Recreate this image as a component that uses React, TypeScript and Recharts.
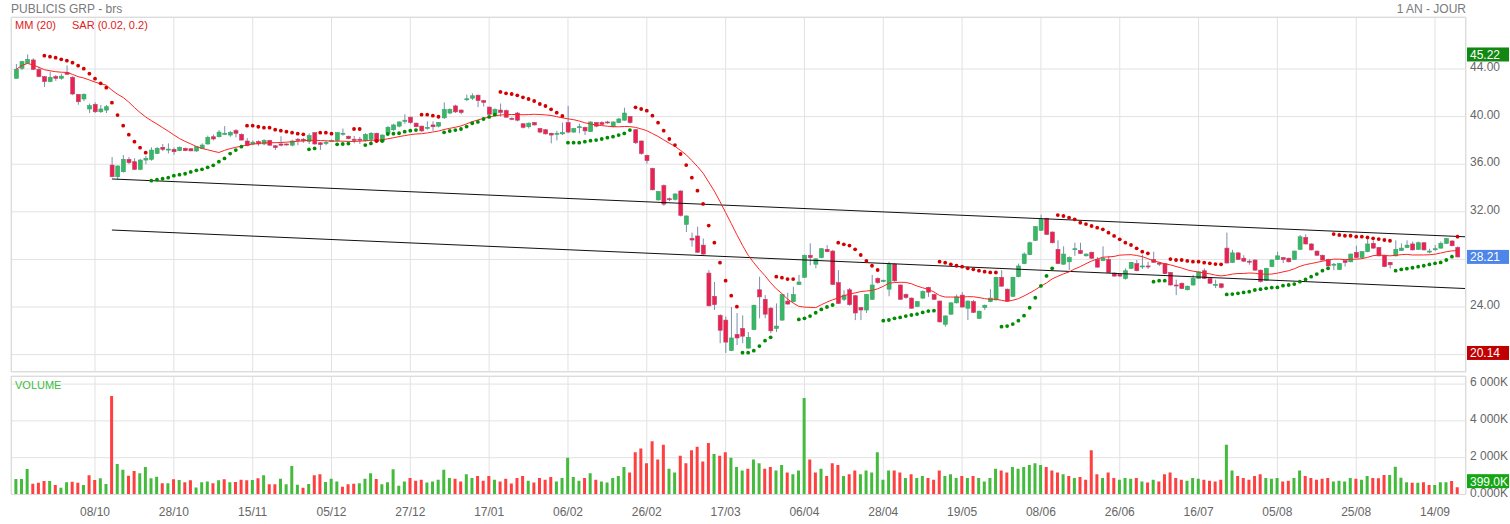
import React from "react";
import {
  ComposedChart,
  Bar,
  Line,
  Cell,
  XAxis,
  YAxis,
  CartesianGrid,
  ReferenceLine,
} from "recharts";

// PUBLICIS GRP daily, ~18/09/2019 -> 18/09/2020 (one row = 10 sessions)
const opens = [
  43.22, 44.06, 44.48, 44.76, 43.97, 43.36, 42.94, 43.36, 43.22, 43.72,
  43.3, 41.87, 41.48, 40.64, 41.03, 40.41, 40.55, 35.93, 34.95, 35.37,
  36.41, 36.21, 35.57, 36.35, 36.41, 36.91, 37.42, 37.19, 37.25, 37.14,
  37.33, 37.3, 37.11, 37.33, 37.7, 38.31, 38.31, 38.5, 38.45, 38.82,
  38.51, 37.95, 37.7, 37.9, 37.7, 38.0, 37.55, 37.7, 37.7, 37.6,
  38.1, 38.1, 37.9, 38.65, 37.8, 37.75, 37.95, 37.98, 38.55, 38.35,
  38.1, 38.1, 37.97, 38.1, 38.6, 37.9, 38.6, 38.9, 39.2, 39.6,
  39.95, 39.45, 39.2, 39.05, 39.3, 39.2, 39.9, 40.3, 40.9, 40.55,
  41.45, 41.55, 41.8, 41.35, 40.8, 40.2, 40.55, 40.5, 39.85, 40.3,
  39.4, 39.15, 39.5, 39.0, 38.9, 38.6, 38.55, 38.55, 39.5, 38.7,
  39.1, 39.1, 38.75, 39.5, 39.5, 39.55, 39.15, 39.5, 39.7, 40.0,
  38.9, 37.95, 36.75, 35.65, 33.0, 34.2, 33.1, 33.05, 33.75, 30.95,
  29.77, 29.97, 29.2, 26.85, 24.9, 23.3, 22.9, 20.35, 21.7, 22.2,
  20.55, 22.1, 25.45, 24.65, 23.9, 22.2, 22.9, 24.5, 24.45, 25.9,
  26.5, 28.35, 27.6, 28.15, 28.85, 28.7, 26.05, 24.65, 25.45, 24.95,
  23.95, 23.75, 24.65, 26.4, 26.15, 25.5, 27.6, 25.85, 25.05, 24.75,
  24.05, 24.75, 25.65, 25.05, 24.5, 22.55, 23.4, 24.35, 25.0, 23.9,
  24.45, 23.05, 23.95, 24.45, 24.6, 26.5, 25.5, 24.9, 26.55, 27.65,
  28.4, 29.6, 30.45, 31.45, 30.3, 28.85, 27.6, 27.8, 28.85, 28.75,
  28.3, 28.6, 28.0, 27.9, 28.0, 26.85, 26.75, 26.4, 27.25, 27.65,
  27.4, 27.45, 28.0, 27.7, 27.65, 26.9, 25.85, 26.0, 25.45, 25.85,
  26.4, 27.05, 26.4, 25.85, 25.95, 28.95, 27.75, 28.55, 28.1, 27.85,
  27.95, 27.1, 26.25, 27.4, 28.0, 28.15, 28.1, 28.0, 28.85, 29.85,
  29.3, 28.7, 28.35, 28.0, 27.55, 27.15, 27.9, 27.8, 28.6, 28.15,
  28.65, 29.35, 29.0, 28.35, 27.75, 28.3, 28.75, 29.0, 29.3, 28.85,
  29.4, 28.65, 28.85, 28.95, 29.35, 29.55, 29.0,
];

const highs = [
  44.42, 44.7, 45.22, 44.9, 44.2, 43.4, 43.78, 43.5, 43.6, 44.3,
  43.4, 41.9, 41.95, 41.1, 41.2, 40.98, 40.98, 36.6, 35.9, 36.77,
  36.6, 36.5, 36.45, 36.7, 37.42, 37.45, 37.7, 37.75, 37.4, 37.5,
  37.4, 37.35, 37.5, 37.75, 38.4, 38.5, 38.87, 39.2, 38.8, 38.95,
  38.6, 38.2, 38.0, 38.0, 38.1, 38.05, 37.6, 38.35, 37.75, 38.05,
  38.2, 38.2, 38.6, 38.7, 37.85, 37.95, 38.1, 38.7, 39.0, 38.4,
  38.38, 38.3, 38.6, 38.7, 38.65, 38.5, 39.2, 39.4, 39.6, 40.2,
  40.0, 39.5, 39.25, 39.6, 39.6, 39.55, 41.2, 40.7, 41.0, 40.6,
  41.85, 41.95, 41.85, 41.4, 40.85, 40.7, 41.1, 40.6, 39.95, 40.4,
  39.45, 39.5, 39.55, 39.05, 38.95, 38.65, 38.8, 39.5, 40.9, 39.05,
  39.4, 39.15, 39.6, 39.55, 39.6, 39.65, 39.6, 39.9, 40.75, 40.05,
  38.95, 38.0, 36.8, 35.7, 33.75, 34.3, 33.2, 33.55, 33.8, 31.7,
  30.25, 30.75, 29.75, 27.1, 26.1, 23.4, 23.2, 24.0, 23.5, 23.3,
  21.9, 24.2, 26.55, 25.0, 24.0, 24.3, 25.1, 25.2, 25.7, 26.7,
  28.4, 29.35, 28.1, 28.95, 29.2, 28.8, 27.1, 25.4, 25.6, 25.0,
  24.0, 25.1, 26.7, 26.5, 26.3, 27.8, 27.7, 25.9, 25.15, 24.8,
  24.5, 25.4, 25.7, 25.1, 24.55, 23.3, 24.4, 25.05, 25.25, 24.55,
  24.6, 23.7, 24.2, 25.5, 26.55, 27.1, 25.55, 26.55, 27.65, 28.6,
  29.5, 30.8, 31.75, 31.5, 30.35, 29.6, 29.1, 28.25, 29.4, 29.4,
  28.5, 28.65, 28.2, 29.1, 28.3, 26.9, 26.8, 27.25, 27.8, 27.95,
  28.4, 27.8, 28.65, 27.8, 27.7, 26.95, 26.3, 26.05, 25.8, 26.7,
  27.0, 27.25, 26.45, 26.3, 26.0, 30.25, 28.8, 28.6, 28.35, 28.0,
  28.0, 27.15, 27.3, 28.0, 28.65, 28.2, 28.15, 28.75, 30.05, 30.1,
  29.35, 28.75, 28.4, 28.05, 27.7, 27.7, 27.95, 28.5, 29.15, 28.7,
  29.75, 29.6, 29.05, 28.4, 27.8, 29.6, 29.35, 29.6, 29.5, 29.5,
  29.45, 28.9, 29.2, 29.5, 29.8, 29.6, 29.1,
];

const lows = [
  43.2, 43.9, 44.45, 43.9, 43.3, 42.5, 42.9, 43.0, 43.1, 43.5,
  41.8, 41.0, 41.3, 40.3, 40.3, 40.3, 40.3, 34.9, 34.7, 35.3,
  36.0, 35.5, 35.5, 36.0, 36.3, 36.85, 37.1, 36.9, 36.8, 37.1,
  37.1, 37.1, 37.05, 37.3, 37.65, 38.0, 38.25, 38.45, 38.3, 38.25,
  38.0, 37.5, 37.6, 37.55, 37.6, 37.55, 37.2, 37.5, 37.55, 37.5,
  37.6, 37.8, 37.7, 37.65, 37.2, 37.6, 37.9, 37.9, 38.4, 38.1,
  37.75, 37.7, 37.9, 37.6, 37.85, 37.85, 38.5, 38.8, 39.1, 39.4,
  39.4, 39.1, 38.7, 38.9, 38.8, 39.1, 39.8, 40.2, 40.3, 40.2,
  41.3, 41.4, 40.8, 40.85, 40.1, 40.1, 40.0, 39.9, 39.7, 39.6,
  39.0, 39.0, 39.25, 38.6, 38.5, 37.75, 38.0, 38.45, 38.6, 38.65,
  38.6, 38.45, 38.7, 39.1, 39.3, 39.4, 39.1, 39.45, 39.65, 39.4,
  37.7, 36.8, 36.05, 33.8, 32.95, 32.5, 32.9, 32.95, 31.6, 30.3,
  29.07, 28.55, 28.4, 24.05, 23.75, 20.95, 20.14, 20.3, 20.8, 20.95,
  20.5, 22.05, 23.05, 23.05, 21.8, 21.9, 22.85, 24.2, 24.4, 25.85,
  26.45, 27.5, 27.25, 28.1, 28.6, 25.85, 24.25, 24.5, 24.1, 22.9,
  22.9, 23.5, 24.6, 25.95, 26.1, 24.9, 26.1, 24.6, 24.7, 23.85,
  24.0, 24.7, 24.85, 24.6, 22.7, 22.35, 23.35, 24.3, 23.95, 22.9,
  23.5, 23.0, 23.75, 24.4, 24.55, 25.7, 24.45, 24.85, 26.5, 27.6,
  28.35, 29.55, 30.4, 30.05, 29.35, 27.6, 27.55, 27.1, 28.3, 28.45,
  28.25, 28.05, 27.3, 27.85, 26.85, 26.55, 26.55, 26.3, 27.2, 27.0,
  27.2, 27.2, 27.7, 27.45, 26.75, 25.8, 25.0, 25.5, 25.4, 25.8,
  26.35, 26.35, 25.95, 25.6, 25.55, 27.65, 27.7, 27.95, 27.8, 27.55,
  27.05, 26.05, 26.2, 27.35, 27.95, 27.7, 27.75, 27.95, 28.8, 29.25,
  28.75, 28.3, 27.9, 27.4, 27.1, 27.1, 27.4, 27.75, 28.1, 28.1,
  28.6, 28.9, 28.25, 27.35, 27.25, 28.25, 28.7, 28.95, 28.75, 28.8,
  28.75, 28.5, 28.7, 28.9, 29.3, 29.1, 28.15,
];

const closes = [
  43.97, 44.62, 44.81, 43.97, 43.36, 42.94, 43.3, 43.22, 43.4, 43.56,
  41.9, 41.25, 41.87, 40.92, 40.41, 40.64, 40.83, 34.95, 35.85, 36.41,
  36.13, 35.57, 36.35, 36.49, 37.19, 37.33, 37.25, 37.27, 37.05, 37.42,
  37.14, 37.12, 37.47, 37.61, 38.26, 38.12, 38.7, 38.6, 38.68, 38.6,
  38.03, 37.56, 37.85, 37.7, 38.0, 37.6, 37.4, 37.6, 37.62, 37.95,
  38.0, 37.95, 38.4, 37.7, 37.65, 37.85, 38.0, 38.65, 38.6, 38.15,
  38.0, 38.05, 38.5, 38.6, 37.9, 38.45, 39.1, 39.3, 39.55, 39.7,
  39.5, 39.15, 38.8, 39.1, 39.15, 39.5, 40.6, 40.6, 40.4, 40.35,
  41.5, 41.75, 41.35, 41.2, 40.2, 40.6, 40.35, 39.95, 39.78, 39.7,
  39.1, 39.45, 39.3, 38.7, 38.55, 38.45, 38.6, 38.65, 38.7, 39.0,
  39.15, 38.8, 39.55, 39.2, 39.35, 39.5, 39.55, 39.8, 40.3, 39.5,
  37.8, 36.9, 36.3, 33.85, 33.7, 32.65, 33.05, 33.5, 31.7, 31.65,
  29.63, 28.6, 28.45, 24.1, 24.2, 22.05, 21.05, 21.4, 21.4, 21.55,
  21.45, 24.15, 24.85, 23.4, 22.0, 22.4, 25.05, 24.25, 25.05, 26.1,
  28.35, 28.15, 28.05, 28.9, 28.65, 25.9, 24.3, 25.0, 24.2, 23.5,
  23.75, 25.05, 25.85, 26.05, 26.25, 27.6, 26.2, 24.65, 24.8, 23.9,
  24.45, 25.3, 25.25, 24.65, 22.75, 23.25, 24.35, 24.85, 24.0, 24.5,
  23.55, 23.65, 24.15, 24.75, 26.5, 25.75, 24.5, 26.5, 27.45, 28.45,
  29.4, 30.75, 31.35, 30.1, 29.4, 27.65, 28.45, 28.15, 28.9, 28.5,
  28.45, 28.1, 27.35, 28.1, 26.9, 26.6, 26.6, 27.05, 27.75, 27.05,
  27.45, 27.4, 27.75, 27.6, 26.8, 25.85, 25.8, 25.55, 25.75, 26.4,
  26.95, 26.4, 26.0, 25.9, 25.65, 27.7, 28.55, 28.0, 27.85, 27.8,
  27.1, 26.15, 27.25, 27.95, 28.3, 28.0, 27.8, 28.7, 29.9, 29.3,
  28.8, 28.35, 27.95, 27.45, 27.6, 27.65, 27.75, 28.45, 28.15, 28.65,
  29.3, 28.95, 28.3, 27.4, 27.55, 28.85, 28.95, 29.2, 28.8, 29.4,
  28.8, 28.7, 28.9, 29.35, 29.75, 29.15, 28.21,
];

// parabolic SAR (0.02, 0.2) dots as plotted
const sarValues = [
  null, null, null, null, null, 45.12, 45.04, 44.95, 44.81, 44.7,
  44.53, 44.28, 44.03, 43.61, 43.19, 42.8, 42.43, 41.17, 40.13, 39.24,
  38.48, 37.89, 37.39, 36.97, 34.62, 34.7, 34.78, 34.87, 35.04, 35.12,
  35.2, 35.35, 35.49, 35.57, 35.74, 35.91, 36.21, 36.49, 36.89, 37.19,
  37.47, 39.24, 39.24, 39.15, 39.07, 39.07, 38.9, 38.82, 38.73, 38.65,
  38.57, 38.51, 37.25, 37.33, 38.65, 38.65, 38.57, 37.67, 37.7, 37.73,
  38.96, 38.96, 37.61, 37.75, 37.95, 37.95, 38.54, 38.57, 38.6, 38.73,
  38.82, 38.87, 40.16, 40.16, 40.08, 39.99, 38.68, 38.79, 38.87, 38.96,
  39.16, 39.44, 39.55, 39.8, 39.97, 40.16, 42.07, 41.96, 41.9, 41.79,
  41.62, 41.48, 41.31, 41.06, 40.89, 40.61, 40.33, 40.05, 37.81, 37.81,
  37.81, 37.89, 37.98, 38.03, 38.12, 38.23, 38.31, 38.45, 38.59, 38.87,
  40.78, 40.64, 40.5, 40.08, 39.49, 38.82, 38.12, 37.61, 36.86, 35.93,
  34.87, 33.78, 32.66, 30.84, 29.41, 27.73, 26.21, 24.95, 24.03, 20.16,
  20.16, 20.33, 20.72, 21.17, 21.45, 26.55, 26.47, 26.35, 26.35, 22.96,
  23.05, 23.24, 23.52, 23.8, 24.0, 24.17, 29.41, 29.27, 29.16, 28.85,
  28.37, 27.87, 27.47, 27.11, 22.85, 22.91, 23.05, 23.13, 23.24, 23.33,
  23.41, 23.55, 23.66, 23.69, 27.81, 27.73, 27.59, 27.47, 27.39, 27.25,
  27.17, 27.05, 26.97, 26.91, 26.9, 22.35, 22.4, 22.57, 22.85, 23.27,
  23.94, 24.78, 25.77, 26.61, 27.25, 31.73, 31.65, 31.51, 31.37, 31.09,
  30.97, 30.81, 30.67, 30.53, 30.25, 29.97, 29.69, 29.41, 29.21, 28.93,
  28.65, 28.51, 26.13, 26.21, 26.21, 28.03, 27.95, 27.95, 27.87, 27.81,
  27.81, 27.73, 27.67, 27.61, 27.59, 25.06, 25.09, 25.15, 25.23, 25.29,
  25.43, 25.5, 25.57, 25.63, 25.65, 25.79, 25.85, 25.93, 26.13, 26.32,
  26.55, 26.77, 27.05, 27.25, 30.13, 30.05, 29.99, 29.99, 29.91, 29.91,
  29.85, 29.77, 29.71, 29.63, 29.57, 27.05, 27.16, 27.22, 27.3, 27.39,
  27.47, 27.58, 27.67, 27.75, 27.95, 28.23, 29.91,
];

// volume in thousands of shares
const volumes = [
  842, 842, 1385, 587, 640, 730, 730, 515, 370, 660,
  695, 640, 515, 1040, 786, 877, 570, 5353, 1657, 1350,
  1025, 1277, 1150, 1495, 877, 967, 605, 605, 822, 786,
  660, 768, 387, 660, 713, 605, 768, 822, 660, 677,
  804, 768, 786, 877, 1040, 551, 551, 858, 551, 1549,
  533, 370, 570, 1040, 1095, 677, 858, 713, 424, 551,
  587, 605, 858, 1150, 840, 551, 660, 1368, 478, 700,
  900, 750, 800, 650, 700, 800, 1350, 900, 850, 700,
  1100, 900, 1000, 750, 1000, 800, 700, 850, 600, 900,
  1000, 750, 650, 900, 800, 950, 700, 900, 2000, 950,
  750, 900, 1150, 800, 700, 650, 900, 1000, 1500, 1200,
  2300, 2500, 1700, 2900, 1900, 2700, 1400, 1200, 2100, 1700,
  2400, 2600, 1800, 2800, 2200, 2100, 2300, 2000, 1500, 1300,
  1400, 1900, 1700, 1400, 1500, 1300, 1600, 1200, 1100, 1300,
  5250, 1900, 1200, 1400, 1000, 1700, 1600, 1000, 1100, 1300,
  1100, 1300, 1200, 2300, 800, 1300, 1300, 1200, 900, 1100,
  900, 1000, 900, 800, 1300, 1000, 1100, 900, 1000, 900,
  1000, 900, 700, 900, 1400, 1300, 1200, 1500, 1400, 1500,
  1600, 1700, 1600, 1500, 1300, 1200, 1100, 1000, 900, 950,
  800, 2400, 1100, 900, 1200, 900, 800, 900, 850, 900,
  700, 650, 800, 700, 1100, 1200, 900, 800, 750, 900,
  850, 800, 750, 700, 800, 2700, 1300, 1000, 900, 800,
  1000, 1100, 900, 850, 900, 700, 750, 900, 1300, 1000,
  900, 800, 850, 900, 700, 750, 700, 900, 850, 800,
  1000, 900, 880, 1060, 1060, 1511, 915, 663, 645, 645,
  663, 516, 516, 663, 663, 734, 399,
];

const dateTicks = [
  "08/10", "28/10", "15/11", "05/12", "27/12", "17/01", "06/02", "26/02", "17/03",
  "06/04", "28/04", "19/05", "08/06", "26/06", "16/07", "05/08", "25/08", "14/09",
];
const tickIdx = dateTicks.map((_, k) => 14 + k * 14);

const priceTicks = [20, 24, 28, 32, 36, 40, 44];
const volumeTicks = [0, 2000, 4000, 6000];

// trend channel
const upperLine = [{ x: 17, y: 34.76 }, { x: 257.5, y: 29.9 }];
const lowerLine = [{ x: 17, y: 30.47 }, { x: 257.5, y: 25.55 }];

const LAST = 28.21;
const MAX = 45.22;
const MIN = 20.14;
const LAST_VOL = 399;

const X_DOMAIN: [number, number] = [-0.924, 257.5];
const FONT = "'Liberation Sans', Arial, sans-serif";

function movingAverage(n: number) {
  return closes.map((_, i) => {
    const from = Math.max(0, i - n + 1);
    const win = closes.slice(from, i + 1);
    return win.reduce((a, b) => a + b, 0) / win.length;
  });
}

const mm = movingAverage(20);

const data = closes.map((c, i) => {
  const s = sarValues[i];
  return {
    i,
    o: opens[i],
    h: highs[i],
    l: lows[i],
    c,
    range: [lows[i], highs[i]],
    v: volumes[i],
    rise: i === 0 ? true : c >= closes[i - 1],
    mm: mm[i],
    sarDn: s != null && s > c ? s : null,
    sarUp: s != null && s <= c ? s : null,
  };
});

const Candle = (props: any) => {
  const { x, y, width, height, payload } = props;
  if (!payload || height == null) return null;
  const { o, h, l, c } = payload;
  const cx = x + width / 2;
  const k = height / (h - l);
  const yo = y + (h - o) * k;
  const yc = y + (h - c) * k;
  const up = c >= o;
  const top = Math.min(yo, yc);
  const bh = Math.max(Math.abs(yo - yc), 1);
  return (
    <g>
      <line x1={cx} x2={cx} y1={y} y2={y + height} stroke="#7b8fae" strokeWidth={1} />
      <rect
        x={cx - 2}
        y={top}
        width={4}
        height={bh}
        fill={up ? "#38b764" : "#ec2150"}
        stroke={up ? "#3aa36a" : "#b8456a"}
        strokeWidth={0.6}
      />
    </g>
  );
};

const Badge = (props: any) => {
  const { viewBox, text, bg, w = 42, dy = 0 } = props;
  if (!viewBox) return null;
  const x = viewBox.x + viewBox.width + 1;
  const y = viewBox.y + dy;
  return (
    <g>
      <rect x={x} y={y - 7} width={w} height={14} fill={bg} />
      <text x={x + 3} y={y + 4.5} fill="#fff" fontSize={12} fontFamily={FONT}>
        {text}
      </text>
    </g>
  );
};

// right-hand tick text, no wrapping; price ticks hidden under a badge are skipped
const AxisTick = (props: any) => {
  const { x, y, payload, hideValues = [], format } = props;
  if (hideValues.includes(payload.value)) return null;
  return (
    <text x={x} y={y - 2} dy="0.35em" fill="#666" fontSize={12} fontFamily={FONT} textAnchor="start">
      {format(payload.value)}
    </text>
  );
};

const fmtPrice = (v: number) => v.toFixed(2);
const fmtVolume = (v: number) => (v === 0 ? "0.000K" : `${v / 1000} 000K`);

const label = (left: number, top: number, color: string, text: string, size = 11) => (
  <div
    style={{
      position: "absolute",
      left,
      top,
      color,
      fontSize: size,
      fontFamily: FONT,
      lineHeight: "14px",
      whiteSpace: "nowrap",
    }}
  >
    {text}
  </div>
);

export default function App() {
  return (
    <div
      style={{
        position: "absolute",
        left: 0,
        top: 0,
        width: 1510,
        height: 524,
        background: "#fff",
        overflow: "hidden",
        fontFamily: FONT,
      }}
    >
      {label(11, 2, "#7a7a7a", "PUBLICIS GRP - brs", 12)}
      <div
        style={{
          position: "absolute",
          right: 1510 - 1466,
          top: 2,
          color: "#7a7a7a",
          fontSize: 12,
          lineHeight: "14px",
        }}
      >
        1 AN - JOUR
      </div>

      <div style={{ position: "absolute", left: 0, top: 0 }}>
        <ComposedChart
          width={1510}
          height={380}
          data={data}
          margin={{ top: 17, right: 0, bottom: 8, left: 11 }}
        >
          <CartesianGrid stroke="#e2e2e2" strokeWidth={1} />
          <XAxis
            dataKey="i"
            type="number"
            domain={X_DOMAIN}
            ticks={tickIdx}
            allowDataOverflow
            hide
          />
          <YAxis
            orientation="right"
            width={44}
            type="number"
            domain={[18.54, 48.37]}
            ticks={priceTicks}
            axisLine={false}
            tickLine={false}
            tickSize={0}
            tickMargin={4}
            allowDataOverflow
            tick={<AxisTick hideValues={[20, 28]} format={fmtPrice} />}
          />
          <ReferenceLine segment={upperLine} stroke="#111" strokeWidth={1} />
          <ReferenceLine segment={lowerLine} stroke="#111" strokeWidth={1} />
          <Bar
            dataKey="range"
            barSize={4}
            shape={<Candle />}
            isAnimationActive={false}
          />
          <Line
            dataKey="mm"
            type="linear"
            stroke="#ff2424"
            strokeWidth={1}
            dot={false}
            activeDot={false}
            isAnimationActive={false}
          />
          <Line
            dataKey="sarDn"
            stroke="none"
            dot={{ r: 1.9, fill: "#d40000", stroke: "none" }}
            activeDot={false}
            isAnimationActive={false}
          />
          <Line
            dataKey="sarUp"
            stroke="none"
            dot={{ r: 1.9, fill: "#008c00", stroke: "none" }}
            activeDot={false}
            isAnimationActive={false}
          />
          <ReferenceLine y={MAX} stroke="none" label={<Badge text={MAX.toFixed(2)} bg="#118811" />} />
          <ReferenceLine y={LAST} stroke="none" label={<Badge text={LAST.toFixed(2)} bg="#4d86e8" />} />
          <ReferenceLine y={MIN} stroke="none" label={<Badge text={MIN.toFixed(2)} bg="#c00000" />} />
        </ComposedChart>
      </div>

      <div style={{ position: "absolute", left: 0, top: 370 }}>
        <ComposedChart
          width={1510}
          height={154}
          data={data}
          margin={{ top: 6, right: 0, bottom: 0, left: 11 }}
        >
          <CartesianGrid stroke="#e2e2e2" strokeWidth={1} />
          <XAxis
            dataKey="i"
            type="number"
            domain={X_DOMAIN}
            ticks={tickIdx}
            tickFormatter={(v: number) => dateTicks[(v - 14) / 14]}
            allowDataOverflow
            height={29.5}
            axisLine={false}
            tickLine={false}
            tickSize={0}
            tickMargin={13}
            tick={{ fill: "#666", fontSize: 12, fontFamily: FONT }}
          />
          <YAxis
            orientation="right"
            width={44}
            type="number"
            domain={[0, 6440]}
            ticks={volumeTicks}
            axisLine={false}
            tickLine={false}
            tickSize={0}
            tickMargin={4}
            allowDataOverflow
            tick={<AxisTick format={fmtVolume} />}
          />
          <Bar dataKey="v" barSize={3} isAnimationActive={false}>
            {data.map((d) => (
              <Cell key={d.i} fill={d.rise ? "#44bb3c" : "#ff4040"} />
            ))}
          </Bar>
          <ReferenceLine
            y={LAST_VOL}
            stroke="none"
            label={<Badge text={`${LAST_VOL.toFixed(1)}K`} bg="#13a813" dy={-6} />}
          />
        </ComposedChart>
      </div>

      {/* panel borders */}
      <div style={{ position: "absolute", left: 11, top: 17, width: 1455, height: 355, border: "1px solid #dcdcdc", boxSizing: "border-box", pointerEvents: "none" }} />
      <div style={{ position: "absolute", left: 11, top: 376, width: 1455, height: 119, border: "1px solid #dcdcdc", boxSizing: "border-box", pointerEvents: "none" }} />

      {label(15, 18, "#e02020", "MM (20)")}
      {label(72, 18, "#e02020", "SAR (0.02, 0.2)")}
      {label(15, 378, "#3cbc3c", "VOLUME")}
    </div>
  );
}
